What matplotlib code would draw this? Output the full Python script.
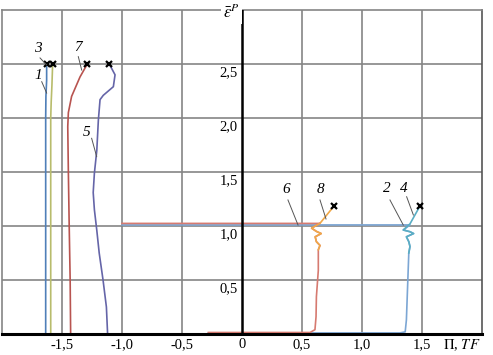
import matplotlib
matplotlib.use("Agg")
import matplotlib.pyplot as plt

plt.rcParams["font.family"] = ["Liberation Serif", "DejaVu Serif"]
plt.rcParams["mathtext.fontset"] = "stix"

# curves (x = Pi, TF ; y = eps_bar^P)
c1_x = [-1.636, -1.636, -1.634, -1.628, -1.628]
c1_y = [0.0, 2.0, 2.2, 2.35, 2.5]
c3_x = [-1.594, -1.594, -1.590, -1.584, -1.578]
c3_y = [0.0, 2.0, 2.15, 2.3, 2.5]
c7_x = [-1.428, -1.432, -1.440, -1.447, -1.452, -1.447, -1.420, -1.350, -1.289]
c7_y = [0.0, 0.5, 1.0, 1.5, 1.92, 2.05, 2.2, 2.38, 2.5]
c5_x = [-1.12, -1.13, -1.158, -1.19, -1.21, -1.23, -1.24, -1.23, -1.21,
        -1.197, -1.183, -1.156, -1.072, -1.058, -1.106]
c5_y = [0.0, 0.25, 0.5, 0.75, 0.96, 1.15, 1.31, 1.49, 1.70,
        1.98, 2.17, 2.21, 2.29, 2.4, 2.5]

c6_x = [-1.0, 0.63, 0.65, 0.58, 0.62, 0.66, 0.61, 0.62, 0.65, 0.636, 0.636,
        0.62, 0.617, 0.608, 0.567, -0.28]
c6_y = [1.024, 1.024, 1.025, 0.98, 0.95, 0.93, 0.90, 0.855, 0.82, 0.78, 0.59,
        0.345, 0.16, 0.04, 0.014, 0.014]
c8_x = [0.636, 0.65, 0.62, 0.61, 0.66, 0.62, 0.58, 0.65, 0.767]
c8_y = [0.78, 0.82, 0.855, 0.90, 0.93, 0.95, 0.98, 1.025, 1.185]

c2_x = [-1.0, 1.40, 1.344, 1.40, 1.43, 1.37, 1.39, 1.40, 1.39, 1.38, 1.37,
        1.36, 1.317, -0.28]
c2_y = [1.010, 1.010, 0.963, 0.947, 0.93, 0.90, 0.855, 0.81, 0.75, 0.44, 0.13,
        0.02, 0.010, 0.010]
c4_x = [1.39, 1.40, 1.39, 1.37, 1.43, 1.40, 1.344, 1.40, 1.483]
c4_y = [0.75, 0.81, 0.855, 0.90, 0.93, 0.947, 0.963, 1.02, 1.185]

end_x = [-1.628, -1.578, -1.289, -1.106, 0.767, 1.483]
end_y = [2.5, 2.5, 2.5, 2.5, 1.185, 1.185]

x_ticks = [-1.5, -1.0, -0.5, 0, 0.5, 1.0, 1.5]
x_labels = ["-1,5", "-1,0", "-0,5", "0", "0,5", "1,0", "1,5"]
y_ticks = [0.5, 1.0, 1.5, 2.0, 2.5]
y_labels = ["0,5", "1,0", "1,5", "2,0", "2,5"]

# curve number, text position, leader start, leader end
tags = [
    ("3", (-1.70, 2.648), (-1.683, 2.556), (-1.628, 2.491)),
    ("1", (-1.70, 2.398), (-1.669, 2.336), (-1.628, 2.231)),
    ("7", (-1.367, 2.657), (-1.364, 2.568), (-1.336, 2.444)),
    ("5", (-1.292, 1.870), (-1.253, 1.812), (-1.211, 1.642)),
    ("6", (0.372, 1.340), (0.383, 1.241), (0.467, 1.009)),
    ("8", (0.65, 1.340), (0.65, 1.241), (0.70, 1.065)),
    ("2", (1.206, 1.349), (1.233, 1.241), (1.344, 1.009)),
    ("4", (1.35, 1.349), (1.372, 1.271), (1.428, 1.102)),
]

fig = plt.figure(figsize=(4.93, 3.55), dpi=100)
ax = fig.add_axes([2 / 493, 21 / 355, 480 / 493, 324 / 355])
ax.set_xlim(-2, 2)
ax.set_ylim(0, 3)

for v in [-1.5, -1.0, -0.5, 0.5, 1.0, 1.5]:
    ax.axvline(v, color="#858585", lw=1.2, zorder=1)
for v in [0.5, 1.0, 1.5, 2.0, 2.5]:
    ax.axhline(v, color="#858585", lw=1.2, zorder=1)
ax.axvline(0, color="black", lw=1.8, zorder=4)

for s in ["left", "top"]:
    ax.spines[s].set_color("#858585")
    ax.spines[s].set_linewidth(1.2)
ax.spines["right"].set_color("#555555")
ax.spines["right"].set_linewidth(1.2)
ax.spines["bottom"].set_color("black")
ax.spines["bottom"].set_linewidth(2.2)
ax.spines["bottom"].set_zorder(5)

lw = 1.2
ax.plot(c1_x, c1_y, color="#4f7fb8", lw=lw, zorder=3, clip_on=False)
ax.plot(c3_x, c3_y, color="#b8bc6c", lw=lw, zorder=3, clip_on=False)
ax.plot(c7_x, c7_y, color="#b85450", lw=lw, zorder=3, clip_on=False)
ax.plot(c5_x, c5_y, color="#6565a8", lw=lw, zorder=3, clip_on=False)
ax.plot(c2_x, c2_y, color="#7ca6d4", lw=lw, zorder=3, clip_on=False)
ax.plot(c6_x, c6_y, color="#d67a70", lw=lw, zorder=3, clip_on=False)
ax.plot(c8_x, c8_y, color="#f0a848", lw=lw, zorder=3, clip_on=False)
ax.plot(c4_x, c4_y, color="#5aaec4", lw=lw, zorder=3, clip_on=False)
ax.plot(end_x, end_y, "x", color="black", ms=4, mew=1.6, zorder=6)

for name, tp, p0, p1 in tags:
    ax.text(tp[0], tp[1], name, fontsize=11, style="italic",
            ha="center", va="center", zorder=6)
    ax.plot([p0[0], p1[0]], [p0[1], p1[1]], color="#555555", lw=0.7, zorder=6)

ax.set_xticks(x_ticks)
ax.set_xticklabels(x_labels, fontsize=10.5)
ax.set_yticks([])
ax.tick_params(axis="x", length=0, pad=3)
for v, lab in zip(y_ticks, y_labels):
    ax.text(-0.035, v - 0.085, lab, fontsize=10.5, ha="right", va="center", zorder=6)

ax.text(1.835, -0.10, r"$\Pi$, $TF$", fontsize=10.5, ha="center", va="center",
        clip_on=False)
ax.text(-0.09, 2.975, r"$\bar{\varepsilon}^{P}$", fontsize=12, ha="center",
        va="center", zorder=7,
        bbox=dict(facecolor="white", edgecolor="none", pad=1.5))

fig.savefig("out.png", dpi=100)
